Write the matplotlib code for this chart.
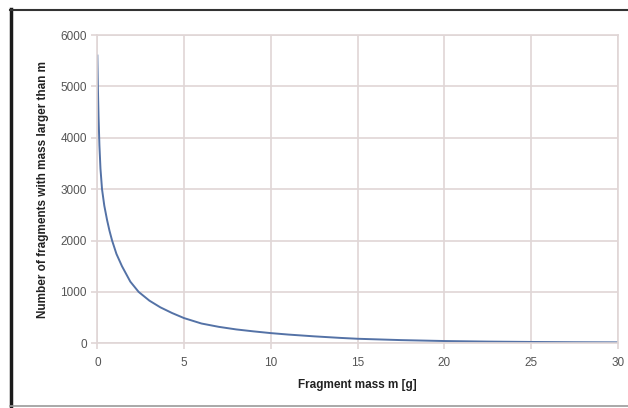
import matplotlib
matplotlib.use('Agg')
import matplotlib.pyplot as plt
from matplotlib.lines import Line2D

plt.rcParams['font.family'] = ['Liberation Sans', 'DejaVu Sans']

# values
mass = [0.0, 0.03, 0.07, 0.12, 0.18, 0.27, 0.4, 0.56, 0.7, 0.85, 1.1, 1.42,
        1.9, 2.38, 3.0, 3.63, 4.3, 5.0, 6.0, 7.0, 8.0, 9.0, 10.0, 11.0, 12.5,
        14.0, 15.0, 17.5, 20.0, 22.5, 25.0, 27.5, 30.0]
count = [5600, 5000, 4400, 3850, 3400, 3000, 2680, 2400, 2190, 2000, 1740, 1500,
         1200, 1000, 830, 700, 590, 490, 385, 320, 270, 232, 198, 170, 135,
         105, 88, 62, 44, 33, 26, 21, 18]

x_ticks = [0, 5, 10, 15, 20, 25, 30]
y_ticks = [0, 1000, 2000, 3000, 4000, 5000, 6000]

fig = plt.figure(figsize=(6.28, 4.08), dpi=100)
ax = fig.add_axes([0.155, 0.1586, 0.829, 0.7556])

ax.plot(mass, count, color='#5472a6', lw=1.4, solid_joinstyle='round')
ax.set_xlim(0, 30)
ax.set_ylim(0, 6000)
ax.set_xticks(x_ticks)
ax.set_yticks(y_ticks)
ax.grid(True, color='#e0d6d6', lw=1.2)
ax.set_axisbelow(True)
for s in ax.spines.values():
    s.set_color('#e0d6d6')
    s.set_linewidth(1.2)
ax.tick_params(colors='#e0d6d6', labelcolor='#555555', labelsize=8.5, length=4, width=1.2)
ax.tick_params(axis='x', pad=6)

ax.set_xlabel('Fragment mass m [g]', fontsize=8.5, fontweight='bold', color='#222222', labelpad=7)
ax.set_ylabel('Number of fragments with mass larger than m', fontsize=8.5,
              fontweight='bold', color='#222222', labelpad=8)

# outer frame of the original figure
fig.add_artist(Line2D([0.018, 0.018], [0.0, 0.977], color='#1a1a1a', lw=2.5))
fig.add_artist(Line2D([0.016, 1.0], [0.975, 0.975], color='#333333', lw=1.5))
fig.add_artist(Line2D([0.016, 1.0], [0.004, 0.004], color='#999999', lw=1.2))

fig.savefig('out.png', dpi=100)
